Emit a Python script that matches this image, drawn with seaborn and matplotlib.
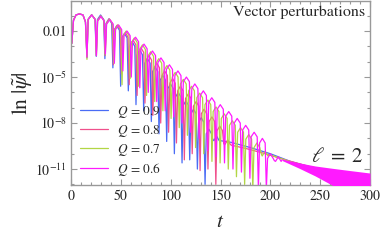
import matplotlib
matplotlib.use("Agg")
import matplotlib.pyplot as plt
import matplotlib.ticker as mticker
import numpy as np
import seaborn as sns

# values are log10|psi|
start_t = [0, 0.8, 2.5, 5, 8.5, 12, 14.5]
start_y = [-0.1, -2.8, -1.3, -0.95, -0.88, -0.95, -1.4]

# Q = 0.9
q9_dips = [16, 25.3, 34, 42, 49.8, 57.5, 65.2, 72.9, 80.6, 88.3, 96, 103.7,
           111.4, 119.1, 126.8, 134.5, 142.2, 149.9]
q9_lows = [-3.75, -3.65, -3.8, -4.4, -5.6, -5.9, -6.8, -7.2, -7.9, -8.7, -9.2,
           -10.0, -10.6, -10.4, -11.0, -12.0, -9.05, -9.15]
q9_tops = [-0.93, -0.95, -1.2, -1.65, -2.15, -2.7, -3.25, -3.8, -4.35, -4.9,
           -5.45, -6.0, -6.55, -7.1, -7.65, -8.4, -8.85]
q9_tail_t = [160, 180, 200, 220, 250, 300]
q9_tail_y = [-9.25, -9.6, -10.0, -10.5, -11.05, -11.45]

# Q = 0.8
q8_dips = [16, 25.4, 34.2, 42.5, 50.5, 58.4, 66.3, 74.2, 82.1, 90, 97.9, 105.8,
           113.7, 121.6, 129.5, 137.4, 145.3, 153.2, 161.1]
q8_lows = [-3.7, -3.6, -3.6, -4.2, -4.8, -5.5, -6.2, -6.7, -7.5, -8.0, -8.6,
           -9.3, -10.4, -10.0, -11.1, -11.0, -12.0, -9.35, -9.45]
q8_tops = [-0.94, -1.0, -1.2, -1.6, -2.1, -2.6, -3.1, -3.6, -4.1, -4.6, -5.1,
           -5.6, -6.1, -6.6, -7.1, -7.6, -8.2, -9.1]
q8_tail_t = [175, 195, 215, 240, 270, 300]
q8_tail_y = [-9.65, -10.0, -10.4, -10.85, -11.25, -11.45]

# Q = 0.7
q7_dips = [16, 25.5, 34.4, 43, 51.2, 59.4, 67.6, 75.8, 84, 92.2, 100.4, 108.6,
           116.8, 125, 133.2, 141.4, 149.6, 157.8, 166, 174.2, 182.4, 190.6,
           198.8]
q7_lows = [-3.85, -3.6, -3.55, -4.1, -5.5, -5.1, -5.6, -6.2, -6.6, -7.2, -7.7,
           -8.3, -8.8, -9.6, -10.0, -10.5, -10.6, -11.0, -11.5, -12.0, -12.3,
           -9.95, -10.05]
q7_tops = [-0.95, -1.03, -1.23, -1.6, -2.0, -2.45, -2.9, -3.35, -3.8, -4.25,
           -4.7, -5.15, -5.6, -6.05, -6.5, -6.95, -7.4, -7.85, -8.3, -8.75,
           -9.3, -9.85]
q7_tail_t = [210, 230, 260, 300]
q7_tail_y = [-10.3, -10.75, -11.15, -11.45]

# Q = 0.6
q6_dips = [16, 25.5, 34.5, 43.5, 52, 60.5, 69, 77.5, 86, 94.5, 103, 111.5, 120,
           128.5, 137, 145.5, 154, 162.5, 171, 179.5, 188, 196, 204, 212]
q6_lows = [-3.7, -3.6, -3.5, -4.1, -4.6, -5.0, -5.7, -6.0, -6.6, -7.2, -7.6,
           -8.0, -8.6, -9.0, -9.8, -10.2, -10.6, -11.0, -11.2, -11.6, -12.3,
           -12.3, -10.45, -10.4]
q6_tops = [-0.95, -1.05, -1.25, -1.6, -2.0, -2.4, -2.85, -3.3, -3.75, -4.2,
           -4.6, -5.0, -5.45, -5.9, -6.35, -6.8, -7.25, -7.7, -8.15, -8.6, -9.0,
           -10.0, -10.2]
# noisy late tail of Q = 0.6 drawn as a band
band_t = [212, 229, 245, 262, 280, 300]
band_hi = [-10.35, -10.6, -10.8, -10.95, -11.1, -11.26]
band_lo = [-10.45, -10.95, -11.45, -12.05, -12.6, -13.0]

labels = [r'$Q\,=\,0.9$', r'$Q\,=\,0.8$', r'$Q\,=\,0.7$', r'$Q\,=\,0.6$']
colors = ['#4a6cf5', '#f0508c', '#b2d645', '#ff1aff']


def trace(dips, lows, tops, tail_t, tail_y, w=1.2):
    t, y = list(start_t), list(start_y)
    for i, top in enumerate(tops):
        a, b = dips[i], dips[i + 1]
        t += [a, a + w, (a + b) / 2, b - w]
        y += [lows[i], top - 0.3, top, top - 0.3]
    t += [dips[-1]] + tail_t
    y += [lows[-1]] + tail_y
    return np.array(t), 10 ** np.array(y)


sns.set_style('ticks')
plt.rcParams['font.family'] = ['STIXGeneral', 'DejaVu Serif']
plt.rcParams['mathtext.fontset'] = 'stix'

fig = plt.figure(figsize=(3.83, 2.4), dpi=100)
ax = fig.add_axes([0.1854, 0.2292, 0.7807, 0.7666])
ax.set_yscale('log')

series = [
    trace(q9_dips, q9_lows, q9_tops, q9_tail_t, q9_tail_y),
    trace(q8_dips, q8_lows, q8_tops, q8_tail_t, q8_tail_y),
    trace(q7_dips, q7_lows, q7_tops, q7_tail_t, q7_tail_y),
    trace(q6_dips, q6_lows, q6_tops, [], []),
]
for (t, y), lab, c in zip(series, labels, colors):
    sns.lineplot(x=t, y=y, sort=False, estimator=None, color=c, lw=0.9,
                 label=lab, ax=ax)
ax.fill_between(band_t, 10 ** np.array(band_lo), 10 ** np.array(band_hi),
                color=colors[3], lw=0, zorder=3)

ax.set_xlim(0, 300)
ax.set_ylim(10 ** -12.04, 10 ** -0.04)
ax.xaxis.set_major_locator(mticker.MultipleLocator(50))
ax.xaxis.set_minor_locator(mticker.MultipleLocator(10))
ax.yaxis.set_major_locator(mticker.FixedLocator([1e-2, 1e-5, 1e-8, 1e-11]))
ax.yaxis.set_major_formatter(mticker.FixedFormatter(
    ['0.01', '$10^{-5}$', '$10^{-8}$', '$10^{-11}$']))
ax.yaxis.set_minor_locator(mticker.FixedLocator(
    [1e-1, 1e-3, 1e-4, 1e-6, 1e-7, 1e-9, 1e-10, 1e-12]))
ax.yaxis.set_minor_formatter(mticker.NullFormatter())
ax.tick_params(which='both', direction='in', top=True, right=True,
               color='#999999', width=0.8, labelsize=10, pad=3)
ax.tick_params(which='major', length=4.5)
ax.tick_params(which='minor', length=2.5)
for s in ax.spines.values():
    s.set_color('#999999')
    s.set_linewidth(1.0)

ax.set_xlabel('$t$', fontsize=15, labelpad=7)
ax.set_ylabel(r'$\ln\,|\tilde{\psi}|$', fontsize=15.5, labelpad=0)
ax.text(0.985, 0.975, 'Vector perturbations', transform=ax.transAxes,
        ha='right', va='top', fontsize=11.5)
ax.text(0.977, 0.152, r'$\ell\;=\;2$', transform=ax.transAxes,
        ha='right', va='center', fontsize=15)
ax.legend(loc='upper left', bbox_to_anchor=(0.0, 0.49), frameon=False,
          handlelength=2.1, fontsize=9.5, labelspacing=0.22, borderaxespad=0.3,
          handletextpad=0.7)

fig.savefig('out.png', dpi=100)
